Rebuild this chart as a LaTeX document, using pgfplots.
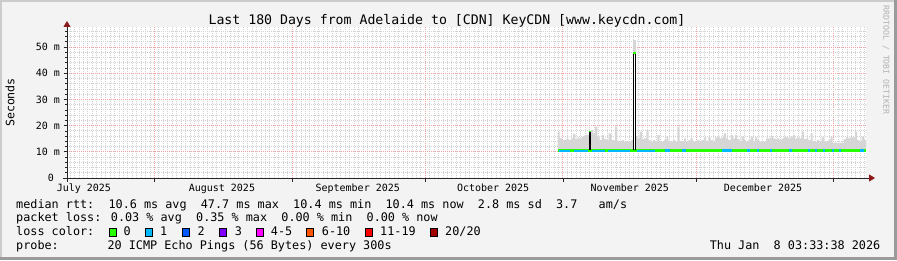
\documentclass[border=0pt]{standalone}
\usepackage{pgfplots}
\pgfplotsset{compat=1.18}
\usepackage{fontspec}
\usetikzlibrary{arrows.meta}
\newfontfamily\mono{DejaVu Sans Mono}
\definecolor{canvasbg}{HTML}{F3F3F3}
\definecolor{mgrid}{HTML}{F2A0A0}
\definecolor{mingrid}{HTML}{D2D2D2}
\definecolor{lc0}{HTML}{26FF00}
\definecolor{lc1}{HTML}{00B8FF}
\definecolor{lc2}{HTML}{0059FF}
\definecolor{lc3}{HTML}{7E00FF}
\definecolor{lc4}{HTML}{FF00FF}
\definecolor{lc6}{HTML}{FF5500}
\definecolor{lc11}{HTML}{FF0000}
\definecolor{lc20}{HTML}{A10000}
\definecolor{smoke}{HTML}{D6D6D6}
\definecolor{arrowred}{HTML}{8B1A1A}
\definecolor{framelight}{HTML}{CCCCCC}
\definecolor{framedark}{HTML}{9B9B9B}

% smoke (upper edge of the ping spread), day index from start of 180-day window
\pgfplotstableread{
x y
110.5 10.5
110.5 17.7
111.0 15.1
111.5 14.5
112.0 14.5
112.5 15.1
113.0 14.5
113.5 15.1
114.0 16.7
114.5 14.8
115.0 15.4
115.5 15.1
116.0 15.8
116.5 16.2
117.0 16.4
117.5 17.0
118.0 18.3
118.5 17.0
119.0 19.6
119.5 15.8
120.0 14.5
120.5 16.4
121.0 14.8
121.5 14.5
122.0 17.0
122.5 14.5
123.0 14.5
123.5 19.6
124.0 14.2
124.5 13.9
125.0 14.5
125.5 13.9
126.0 14.2
126.5 13.9
127.0 14.5
127.5 10.5
128.0 16.0
128.5 15.1
129.0 17.7
129.5 14.8
130.0 15.1
130.5 18.3
131.0 14.5
131.5 13.9
132.0 14.5
132.5 13.9
133.0 16.4
133.5 14.2
134.0 13.9
134.5 14.5
135.0 15.8
135.5 14.2
136.0 13.9
136.5 14.5
137.0 13.9
137.5 19.6
138.0 14.2
138.5 13.9
139.0 15.1
139.5 13.9
140.0 14.5
140.5 15.1
141.0 13.9
141.5 14.2
142.0 14.5
142.5 13.9
143.0 14.5
143.5 15.5
144.0 14.2
144.5 15.5
145.0 14.5
145.5 14.2
146.0 15.5
146.5 15.8
147.0 15.1
147.5 15.5
148.0 17.0
148.5 15.1
149.0 14.5
149.5 16.4
150.0 15.1
150.5 16.4
151.0 14.8
151.5 14.2
152.0 15.8
152.5 14.5
153.0 13.9
153.5 14.5
154.0 15.8
154.5 14.2
155.0 15.5
155.5 14.5
156.0 13.9
156.5 14.2
157.0 13.9
157.5 15.1
158.0 15.1
158.5 16.0
159.0 15.1
159.5 14.8
160.0 15.1
160.5 14.5
161.0 15.1
161.5 15.8
162.0 15.5
162.5 15.1
163.0 15.8
163.5 16.4
164.0 15.1
164.5 15.5
165.0 15.1
165.5 17.7
166.0 14.8
166.5 15.1
167.0 14.5
167.5 17.0
168.0 14.2
168.5 13.9
169.0 14.5
169.5 13.9
170.0 15.5
170.5 14.2
171.0 13.9
171.5 14.5
172.0 15.8
172.5 13.5
173.0 13.5
173.5 13.2
174.0 13.5
174.5 13.5
175.0 14.8
175.5 15.5
176.0 15.1
176.5 15.8
177.0 15.5
177.5 17.7
178.0 14.5
178.5 14.2
179.0 15.8
179.5 14.5
180.0 10.5
}\smoketable

\begin{document}
\begin{tikzpicture}[x=1bp,y=1bp]
\fill[canvasbg] (0,0) rectangle (897,260);
\fill[framelight] (0,0) rectangle (2,260);
\fill[framelight] (0,258) rectangle (897,260);
\fill[framedark] (0,0) rectangle (897,3);
\fill[framedark] (894,0) rectangle (897,260);

\begin{axis}[
  at={(67bp,82bp)}, anchor=south west,
  width=799bp, height=151bp, scale only axis,
  xmin=0, xmax=180, ymin=0, ymax=57.63,
  axis background/.style={fill=white},
  axis lines=left,
  x axis line style={black!85, line width=0.9bp, shorten <=-4bp, shorten >=-9bp,
     -{Triangle[length=6bp,width=7bp,color=arrowred]}},
  y axis line style={black!85, line width=0.9bp, shorten <=-4bp, shorten >=-6bp,
     -{Triangle[length=6bp,width=7bp,color=arrowred]}},
  tick align=outside,
  major tick length=3.5bp, minor tick length=2bp,
  tick style={black!85, line width=0.6bp},
  minor x tick style={draw=none},
  grid=both,
  major grid style={mgrid, dash pattern=on 1bp off 1bp, line width=0.8bp},
  minor grid style={mingrid, dash pattern=on 1bp off 1bp, line width=0.8bp},
  xtick={19.7,50.7,80.7,111.7,141.7,172.7},
  xticklabels={},
  minor xtick={0.7,1.7,...,179.7},
  extra x ticks={3.8,34.9,65.5,96.0,126.8,156.8},
  extra x tick labels={July 2025,August 2025,September 2025,October 2025,November 2025,December 2025},
  extra x tick style={grid=none, major tick length=0pt,
     xticklabel style={anchor=base, yshift=-13bp}},
  ytick={0,10,20,30,40,50},
  yticklabels={0~~,10 m,20 m,30 m,40 m,50 m},
  minor ytick={2,4,6,8,12,14,16,18,22,24,26,28,32,34,36,38,42,44,46,48,52,54,56},
  /pgf/number format/assume math mode=true,
  tick label style={font=\mono\fontsize{10bp}{12bp}\selectfont, text=black},
  clip=false,
]
% smoke
\addplot[fill=smoke, draw=none, const plot] table {\smoketable} -- cycle;
\addplot[fill=smoke, draw=none] coordinates {(127.5,47.0)(127.5,52.7)(128.1,52.7)(128.1,47.0)} -- cycle;
% median rtt, coloured by loss
\addplot[lc0, line width=2.8bp] coordinates {(110.5,10.5)(180,10.5)};
\addplot[lc1, line width=1.4bp, unbounded coords=jump] coordinates {
(110.8,10.23)(113.3,10.23)(113.4,nan)
(114.2,10.23)(117.3,10.23)(117.4,nan)
(118.3,10.23)(121.2,10.23)(121.3,nan)
(121.9,10.23)(126.8,10.23)(126.9,nan)
(128.4,10.23)(132.5,10.23)};
\addplot[lc1, line width=2.8bp, unbounded coords=jump] coordinates {
(134.7,10.5)(135.8,10.5)(135.9,nan)
(138.5,10.5)(139.4,10.5)(139.5,nan)
(147.6,10.5)(149.8,10.5)(149.9,nan)
(153.2,10.5)(153.9,10.5)(154.0,nan)
(155.4,10.5)(155.9,10.5)(156.0,nan)
(158.4,10.5)(158.8,10.5)(158.9,nan)
(162.6,10.5)(163.3,10.5)(163.4,nan)
(166.9,10.5)(167.4,10.5)(167.5,nan)
(168.5,10.5)(169.0,10.5)(169.1,nan)
(170.3,10.5)(170.8,10.5)(170.9,nan)
(172.3,10.5)(172.8,10.5)(172.9,nan)
(173.9,10.5)(174.4,10.5)(174.5,nan)
(178.6,10.5)(179.5,10.5)};
% spikes of the median
\addplot[black, line width=2bp] coordinates {(117.8,10.5)(117.8,17.4)};
\addplot[lc0, line width=1.6bp] coordinates {(117.6,17.7)(118.0,17.7)};
\addplot[black, line width=1.3bp] coordinates {(127.57,10.5)(127.57,47.7)};
\addplot[black, line width=1.3bp] coordinates {(128.03,10.5)(128.03,47.7)};
\addplot[lc0, line width=2bp] coordinates {(127.45,47.7)(128.15,47.7)};
\end{axis}

% title and labels
\node[anchor=base, font=\mono\fontsize{13.2bp}{15bp}\selectfont] at (447,236) {Last 180 Days from Adelaide to [CDN] KeyCDN [www.keycdn.com]};
\node[rotate=90, font=\mono\fontsize{11.6bp}{13bp}\selectfont] at (10,157.5) {Seconds};
\node[rotate=-90, font=\mono\fontsize{8.2bp}{10bp}\selectfont, text=black!30] at (886,200) {RRDTOOL / TOBI OETIKER};

% legend
\begin{scope}[every node/.style={font=\mono\fontsize{11.8bp}{14bp}\selectfont, inner sep=0pt}]
\node[anchor=base west] at (16,52) {median rtt:~~10.6 ms avg~~47.7 ms max~~10.4 ms min~~10.4 ms now~~2.8 ms sd~~3.7~~~am/s};
\node[anchor=base west] at (16,38.3) {packet loss: 0.03 \% avg~~0.35 \% max~~0.00 \% min~~0.00 \% now};
\node[anchor=base west] at (16,24.2) {loss color:};
\node[anchor=base west] at (16,10.5) {probe:};
\node[anchor=base west] at (107.3,10.5) {20 ICMP Echo Pings (56 Bytes) every 300s};
\node[anchor=base east] at (880.5,10.5) {Thu Jan~~8 03:33:38 2026};
\foreach \bx/\tx/\col/\lab in {109/123.3/lc0/{0}, 145.7/160/lc1/{1}, 182.3/197.3/lc2/{2}, 219/234.7/lc3/{3}, 256/270.7/lc4/{4-5}, 306.7/321.7/lc6/{6-10}, 365.7/380/lc11/{11-19}, 430.7/445/lc20/{20/20}}{
  \filldraw[fill=\col, draw=black, line width=0.6bp] (\bx,23.8) rectangle ++(7,8.2);
  \node[anchor=base west] at (\tx,24.2) {\lab};
}
\end{scope}
\pgfresetboundingbox
\path (0,0) rectangle (897,260);
\end{tikzpicture}
\end{document}
